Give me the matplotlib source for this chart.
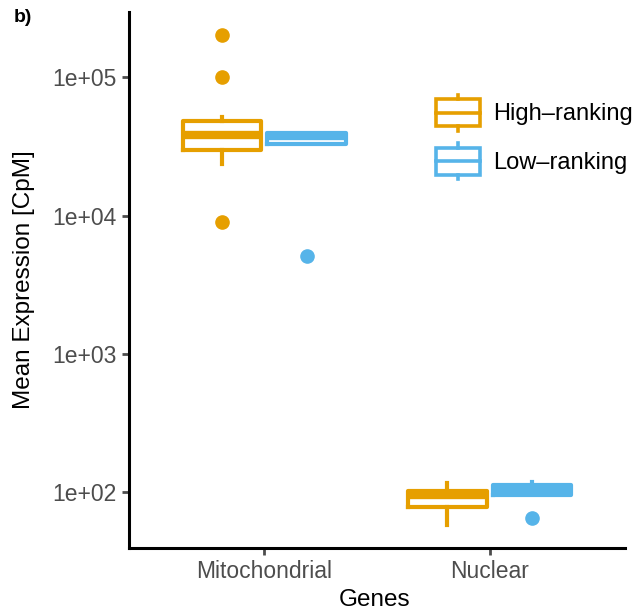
import numpy as np
import matplotlib
matplotlib.use("Agg")
import matplotlib.pyplot as plt
from matplotlib.patches import Rectangle, Patch
from matplotlib.lines import Line2D
from matplotlib.legend_handler import HandlerBase

plt.rcParams['font.family'] = ['Liberation Sans', 'DejaVu Sans']

# data (box stats, CpM)
genes = ["Mitochondrial", "Nuclear"]
groups = ["High\u2013ranking", "Low\u2013ranking"]
colors = ["#E69F00", "#56B4E9"]

high_q1 = [29700, 78.5]
high_med = [38100, 96]
high_q3 = [48100, 103]
high_lo = [23500, 58]
high_hi = [51200, 117]
high_out = [[200000, 100000, 9000], []]

low_q1 = [32800, 96]
low_med = [37500, 104]
low_q3 = [39400, 113]
low_lo = [32800, 96]
low_hi = [39400, 119]
low_out = [[5100], [65]]

fig = plt.figure(figsize=(6.35, 6.15), dpi=100)
ax = fig.add_axes([129/635, 1-548/615, (625-129)/635, (548-12)/615])

box_lw = 3.0
width = 0.35
offs = [-0.1875, 0.1875]

stats_all = [
    (high_q1, high_med, high_q3, high_lo, high_hi, high_out),
    (low_q1, low_med, low_q3, low_lo, low_hi, low_out),
]

for gi, (q1, med, q3, lo, hi, out) in enumerate(stats_all):
    c = colors[gi]
    stats = []
    for i in range(len(genes)):
        stats.append(dict(med=med[i], q1=q1[i], q3=q3[i], whislo=lo[i], whishi=hi[i], fliers=out[i]))
    pos = [i + 1 + offs[gi] for i in range(len(genes))]
    ax.bxp(stats, positions=pos, widths=width, showcaps=False,
           boxprops=dict(color=c, linewidth=box_lw),
           medianprops=dict(color=c, linewidth=box_lw*2, solid_capstyle='butt'),
           whiskerprops=dict(color=c, linewidth=box_lw),
           flierprops=dict(marker='o', markerfacecolor=c, markeredgecolor=c, markersize=9.5))

ax.set_yscale('log')
ax.set_ylim(39.7, 2.95e5)
ax.set_xlim(0.4, 2.6)
ax.set_yticks([1e2, 1e3, 1e4, 1e5])
ax.set_yticklabels(["1e+02", "1e+03", "1e+04", "1e+05"])
ax.yaxis.set_minor_locator(matplotlib.ticker.NullLocator())
ax.set_xticks([1, 2])
ax.set_xticklabels(genes)

for s in ['top', 'right']:
    ax.spines[s].set_visible(False)
for s in ['left', 'bottom']:
    ax.spines[s].set_linewidth(2.2)
    ax.spines[s].set_color('black')

ax.tick_params(axis='both', colors='#4D4D4D', labelcolor='#4D4D4D', length=5, width=2,
               labelsize=16.5, pad=4)

ax.set_ylabel("Mean Expression [CpM]", fontsize=17.5, color='black', va='center')
ax.yaxis.set_label_coords(-0.212, 0.5)
ax.set_xlabel("Genes", fontsize=17.5, color='black', va='center')
ax.xaxis.set_label_coords(0.496, -0.097)


class BoxHandler(HandlerBase):
    def create_artists(self, legend, orig_handle, xd, yd, w, h, fontsize, trans):
        c = orig_handle.get_edgecolor()
        x0, x1 = -xd, -xd + w
        yc = -yd + h / 2
        bh = h * 0.74
        r = Rectangle((x0, yc - bh/2), w, bh, fill=False, edgecolor=c, lw=2.6, transform=trans)
        m = Line2D([x0, x1], [yc, yc], color=c, lw=2.6, transform=trans)
        xm = (x0 + x1) / 2
        wt = Line2D([xm, xm], [yc + bh/2, h - yd], color=c, lw=2.6, transform=trans)
        wb = Line2D([xm, xm], [yc - bh/2, -yd], color=c, lw=2.6, transform=trans)
        return [r, m, wt, wb]


handles = [Patch(edgecolor=c, facecolor='none') for c in colors]
ax.legend(handles, groups, handler_map={Patch: BoxHandler()}, loc='center left',
          bbox_to_anchor=((436-129)/496, (548-137)/536), frameon=False, fontsize=17,
          handlelength=1.85, handleheight=2.0, labelspacing=0.5, handletextpad=0.55,
          borderpad=0, borderaxespad=0)

fig.text(14/635, 1-17/615, "b)", fontsize=14, fontweight='bold', va='center', ha='left')

fig.savefig("out.png", dpi=100)
